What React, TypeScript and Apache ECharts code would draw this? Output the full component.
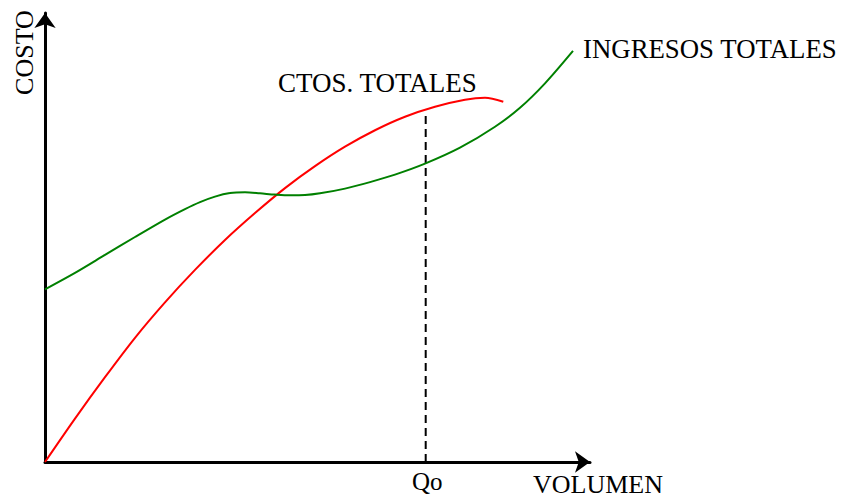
import React, { useEffect, useRef } from "react";
import * as echarts from "echarts";

// Curve readings (x: volume units, y: cost units)
const redCurve: [number, number][] = [
  [0, 0], [6, 8.7], [12, 17.0], [18, 24.9], [24, 32.0], [30, 38.5], [36, 44.5],
  [42, 49.9], [48, 54.9], [54, 59.3], [60, 63.2], [66, 66.5], [72, 69.2],
  [78, 71.2], [84, 72.6], [88, 73.0], [91.66, 72.2],
];
const greenCurve: [number, number][] = [
  [0, 34.6], [6, 37.9], [12, 41.5], [18, 45.1], [24, 48.6], [28, 50.7], [31, 52.1],
  [34, 53.2], [37, 53.9], [40, 54.05], [43, 53.85], [46, 53.6], [49, 53.45],
  [52, 53.5], [55, 53.85], [60, 54.8], [65, 56.1], [70, 57.6], [76, 59.8],
  [83, 63.0], [90, 67.2], [95, 71.0], [100, 75.9], [105.6, 82.4],
];
const qoX = 76.14;
const qoTop = 70;
const xMax = 109;
const yMax = 90;

const labelCtos = "CTOS. TOTALES";
const labelIngresos = "INGRESOS TOTALES";
const labelX = "VOLUMEN";
const labelY = "COSTO";
const labelQo = "Qo";

const FONT = '"Liberation Serif", "Times New Roman", serif';

export default function App() {
  const ref = useRef<HTMLDivElement>(null);
  useEffect(() => {
    if (!ref.current) return;
    const chart = echarts.init(ref.current, undefined, { renderer: "svg" });
    const axisLine = {
      show: true,
      symbol: ["none", "arrow"],
      symbolSize: [16, 15],
      lineStyle: { color: "#000", width: 3 },
    };
    chart.setOption({
      animation: false,
      backgroundColor: "#fff",
      grid: { left: 45, right: 253, top: 13, bottom: 40, containLabel: false },
      xAxis: {
        type: "value", min: 0, max: xMax,
        axisLine, axisTick: { show: false }, axisLabel: { show: false }, splitLine: { show: false },
      },
      yAxis: {
        type: "value", min: 0, max: yMax,
        axisLine, axisTick: { show: false }, axisLabel: { show: false }, splitLine: { show: false },
      },
      series: [
        {
          type: "line", data: redCurve, smooth: 0.3, showSymbol: false,
          lineStyle: { color: "#ff0000", width: 2 }, z: 3,
        },
        {
          type: "line", data: greenCurve, smooth: 0.3, showSymbol: false,
          lineStyle: { color: "#008000", width: 2 }, z: 3,
        },
        {
          type: "line", data: [[qoX, 0], [qoX, qoTop]], showSymbol: false,
          lineStyle: { color: "#000", width: 2, type: [8, 5] }, z: 2,
        },
      ],
      graphic: [
        { type: "text", x: 278, y: 82.5, style: { text: labelCtos, font: `27px ${FONT}`, fill: "#000", align: "left", verticalAlign: "middle" } },
        { type: "text", x: 583, y: 48.5, style: { text: labelIngresos, font: `26.8px ${FONT}`, fill: "#000", align: "left", verticalAlign: "middle" } },
        { type: "text", x: 533, y: 484.5, style: { text: labelX, font: `26px ${FONT}`, fill: "#000", align: "left", verticalAlign: "middle" } },
        { type: "text", x: 412, y: 481.5, style: { text: labelQo, font: `25px ${FONT}`, fill: "#000", align: "left", verticalAlign: "middle" } },
        { type: "text", x: 24, y: 52.5, rotation: Math.PI / 2, style: { text: labelY, font: `26px ${FONT}`, fill: "#000", align: "center", verticalAlign: "middle" } },
      ],
    });
    return () => chart.dispose();
  }, []);
  return <div ref={ref} style={{ position: "absolute", left: 0, top: 0, width: 843, height: 502 }} />;
}
